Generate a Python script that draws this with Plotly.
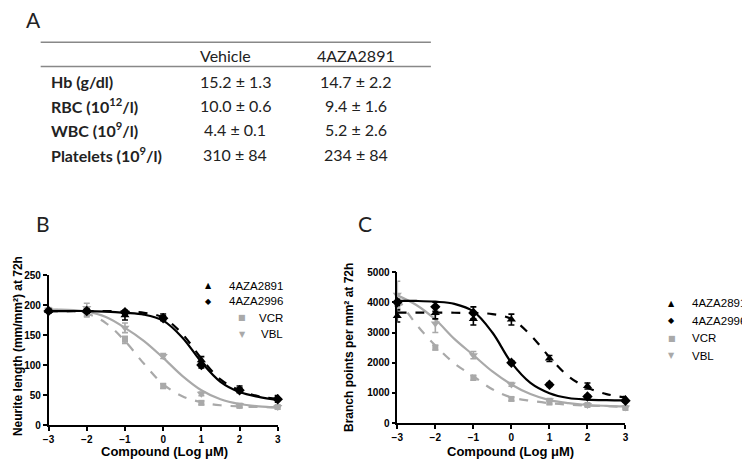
import plotly.graph_objects as go

# page offset of the browser body (default 8px margin) is compensated below
OX, OY = 8, 8
W, H = 750, 470
FW, FH = W - OX, H - OY

# ---------------- Panel A: table ----------------
table_header = ["Vehicle", "4AZA2891"]
table_rows = ["Hb (g/dl)", "RBC (10<sup>12</sup>/l)", "WBC (10<sup>9</sup>/l)", "Platelets (10<sup>9</sup>/l)"]
vehicle_vals = ["15.2 ± 1.3", "10.0 ± 0.6", "4.4 ± 0.1", "310 ± 84"]
aza_vals = ["14.7 ± 2.2", "9.4 ± 1.6", "5.2 ± 2.6", "234 ± 84"]

# ---------------- Panels B and C: dose-response ----------------
series = ["4AZA2891", "4AZA2996", "VCR", "VBL"]
log_dose = [-3, -2, -1, 0, 1, 2, 3]
fit_x = [-3, -2.5, -2, -1.5, -1, -0.5, 0, 0.5, 1, 1.5, 2, 2.5, 3]

# Panel B: neurite length (mm/mm2)
b_means = {
    "4AZA2891": [190, 190, 183, 180, 108, 60, 45],
    "4AZA2996": [190, 190, 188, 178, 100, 58, 43],
    "VCR": [192, 185, 142, 65, 37, 32, 30],
    "VBL": [192, 195, 162, 115, 52, 33, 30],
}
b_errs = {
    "4AZA2891": [3, 3, 8, 5, 6, 5, 4],
    "4AZA2996": [3, 3, 3, 4, 5, 4, 5],
    "VCR": [3, 5, 6, 4, 3, 3, 3],
    "VBL": [3, 8, 8, 4, 3, 3, 3],
}
b_fits = {
    "4AZA2891": [190, 190, 190, 190, 189, 187, 179, 152, 111, 76, 58, 48, 44],
    "4AZA2996": [190, 190, 190, 189, 187, 184, 174, 146, 105, 72, 55, 47, 42],
    "VCR": [192, 191, 186, 170, 140, 102, 68, 48, 38, 33, 31, 30, 30],
    "VBL": [192, 192, 189, 180, 162, 140, 112, 82, 58, 43, 35, 31, 29],
}

# Panel C: branch points per mm2
c_means = {
    "4AZA2891": [3550, 3650, 3450, 3430, 2140, 1230, 800],
    "4AZA2996": [4000, 3850, 3650, 2000, 1270, 880, 740],
    "VCR": [3950, 2500, 1500, 800, 680, 600, 500],
    "VBL": [4250, 3300, 2250, 1280, 760, 600, 520],
}
c_errs = {
    "4AZA2891": [200, 200, 200, 180, 100, 100, 80],
    "4AZA2996": [100, 150, 200, 60, 60, 50, 50],
    "VCR": [150, 80, 80, 60, 50, 40, 40],
    "VBL": [450, 300, 120, 60, 50, 40, 40],
}
c_fits = {
    "4AZA2891": [3660, 3660, 3660, 3655, 3645, 3610, 3450, 2920, 2190, 1550, 1170, 960, 850],
    "4AZA2996": [4050, 4045, 4020, 3950, 3700, 3000, 2000, 1330, 990, 830, 780, 760, 750],
    "VCR": [4150, 3270, 2570, 1980, 1550, 1120, 850, 740, 660, 610, 580, 560, 530],
    "VBL": [4230, 3910, 3430, 2790, 2250, 1710, 1280, 960, 760, 660, 600, 570, 550],
}

BLACK = "#000000"
GRAY = "#a9a9a9"
style = {
    "4AZA2891": dict(color=BLACK, symbol="triangle-up", size=8, dash="dash", glyph="▲"),
    "4AZA2996": dict(color=BLACK, symbol="diamond", size=8, dash="solid", glyph="◆"),
    "VCR": dict(color=GRAY, symbol="square", size=6, dash="dash", glyph="■"),
    "VBL": dict(color=GRAY, symbol="triangle-down", size=8, dash="solid", glyph="▼"),
}

def px(x):
    return (x - OX) / FW

def py(y):
    return 1 - (y - OY) / FH

fig = go.Figure()

draw_order = ["VCR", "VBL", "4AZA2891", "4AZA2996"]
for xa, ya, means, errs, fits in [("x", "y", b_means, b_errs, b_fits),
                                  ("x2", "y2", c_means, c_errs, c_fits)]:
    for s in draw_order:
        st = style[s]
        fig.add_trace(go.Scatter(
            x=fit_x, y=fits[s], mode="lines", xaxis=xa, yaxis=ya,
            line=dict(color=st["color"], width=2.2, dash=st["dash"], shape="spline", smoothing=1.0),
            showlegend=False, hoverinfo="skip", cliponaxis=False,
        ))
    for s in draw_order:
        st = style[s]
        fig.add_trace(go.Scatter(
            x=log_dose, y=means[s], mode="markers", xaxis=xa, yaxis=ya,
            marker=dict(color=st["color"], symbol=st["symbol"], size=st["size"], line=dict(width=0)),
            error_y=dict(type="data", array=errs[s], color=st["color"], thickness=1.6, width=3),
            showlegend=False, cliponaxis=False, name=s,
        ))

axis_common = dict(
    showline=True, linecolor="black", linewidth=1.5, mirror=False,
    ticks="outside", ticklen=4, tickwidth=1.5, tickcolor="black",
    showgrid=False, zeroline=False,
    tickfont=dict(family="Liberation Sans, Arial", size=10, color="black", weight="bold"),
)

fig.update_layout(
    width=FW, height=FH, margin=dict(l=0, r=0, t=0, b=0),
    paper_bgcolor="white", plot_bgcolor="white", showlegend=False,
    xaxis=dict(domain=[px(43), px(275)], range=[-3, 3], tickvals=log_dose, anchor="y", **axis_common),
    yaxis=dict(domain=[py(430), py(276)], range=[0, 250], tickvals=[0, 50, 100, 150, 200, 250], anchor="x", **axis_common),
    xaxis2=dict(domain=[px(396), px(627)], range=[-3, 3], tickvals=log_dose, anchor="y2", **axis_common),
    yaxis2=dict(domain=[py(428), py(273)], range=[0, 5000], tickvals=[0, 1000, 2000, 3000, 4000, 5000], anchor="x2", **axis_common),
)

ann = []
TBL_FONT = "Lato, Open Sans, sans-serif"
AX_FONT = "Liberation Sans, Arial"

# panel letters
for letter, x, y in [("A", 28, 14), ("B", 37, 223), ("C", 363, 223)]:
    ann.append(dict(text=letter, x=px(x), y=py(y), xref="paper", yref="paper", showarrow=False,
                    xanchor="center", yanchor="middle", font=dict(family=TBL_FONT, size=21, color="#222")))

# table header
for txt, x in zip(table_header, [222, 354]):
    ann.append(dict(text=txt, x=px(x), y=py(51), xref="paper", yref="paper", showarrow=False,
                    xanchor="center", yanchor="middle", font=dict(family=TBL_FONT, size=16, color="#222")))
row_y = [77, 102, 127, 152]
for lab, v1, v2, y in zip(table_rows, vehicle_vals, aza_vals, row_y):
    ann.append(dict(text=lab, x=px(43), y=py(y), xref="paper", yref="paper", showarrow=False,
                    xanchor="left", yanchor="middle", font=dict(family=TBL_FONT, size=16, color="#222", weight="bold")))
    ann.append(dict(text=v1, x=px(232), y=py(y), xref="paper", yref="paper", showarrow=False,
                    xanchor="center", yanchor="middle", font=dict(family=TBL_FONT, size=16, color="#222")))
    ann.append(dict(text=v2, x=px(354), y=py(y), xref="paper", yref="paper", showarrow=False,
                    xanchor="center", yanchor="middle", font=dict(family=TBL_FONT, size=16, color="#222")))

shapes = [
    dict(type="line", xref="paper", yref="paper", x0=px(35), x1=px(430), y0=py(37), y1=py(37),
         line=dict(color="#888", width=1.5)),
    dict(type="line", xref="paper", yref="paper", x0=px(35), x1=px(430), y0=py(62), y1=py(62),
         line=dict(color="#888", width=1.5)),
]

# axis titles
ann.append(dict(text="Neurite length (mm/mm²) at 72h", x=px(12), y=py(349), xref="paper", yref="paper",
                showarrow=False, textangle=-90, xanchor="center", yanchor="middle",
                font=dict(family=AX_FONT, size=12, color="black", weight="bold")))
ann.append(dict(text="Branch points per mm² at 72h", x=px(347), y=py(350), xref="paper", yref="paper",
                showarrow=False, textangle=-90, xanchor="center", yanchor="middle",
                font=dict(family=AX_FONT, size=12, color="black", weight="bold")))
for x in [160, 511]:
    ann.append(dict(text="Compound (Log μM)", x=px(x), y=py(457), xref="paper", yref="paper",
                    showarrow=False, xanchor="center", yanchor="middle",
                    font=dict(family=AX_FONT, size=13, color="black", weight="bold")))

# legend for B (right-aligned text, marker before text)
b_leg_y = [287, 303, 320, 337]
b_mark_x = [205, 205, 239, 239]
for s, y, mx in zip(series, b_leg_y, b_mark_x):
    st = style[s]
    ann.append(dict(text=s, x=px(282), y=py(y), xref="paper", yref="paper", showarrow=False,
                    xanchor="right", yanchor="middle", font=dict(family=AX_FONT, size=11.5, color="black")))
    ann.append(dict(text=st["glyph"], x=px(mx), y=py(y), xref="paper", yref="paper", showarrow=False,
                    xanchor="center", yanchor="middle", font=dict(family="DejaVu Sans", size=8, color=st["color"])))

# legend for C (left-aligned)
c_leg_y = [305, 323, 341, 359]
for s, y in zip(series, c_leg_y):
    st = style[s]
    ann.append(dict(text=s, x=px(692), y=py(y), xref="paper", yref="paper", showarrow=False,
                    xanchor="left", yanchor="middle", font=dict(family=AX_FONT, size=11.5, color="black")))
    ann.append(dict(text=st["glyph"], x=px(674), y=py(y), xref="paper", yref="paper", showarrow=False,
                    xanchor="center", yanchor="middle", font=dict(family="DejaVu Sans", size=8, color=st["color"])))

fig.update_layout(annotations=ann, shapes=shapes)
fig.write_html("out.html")
